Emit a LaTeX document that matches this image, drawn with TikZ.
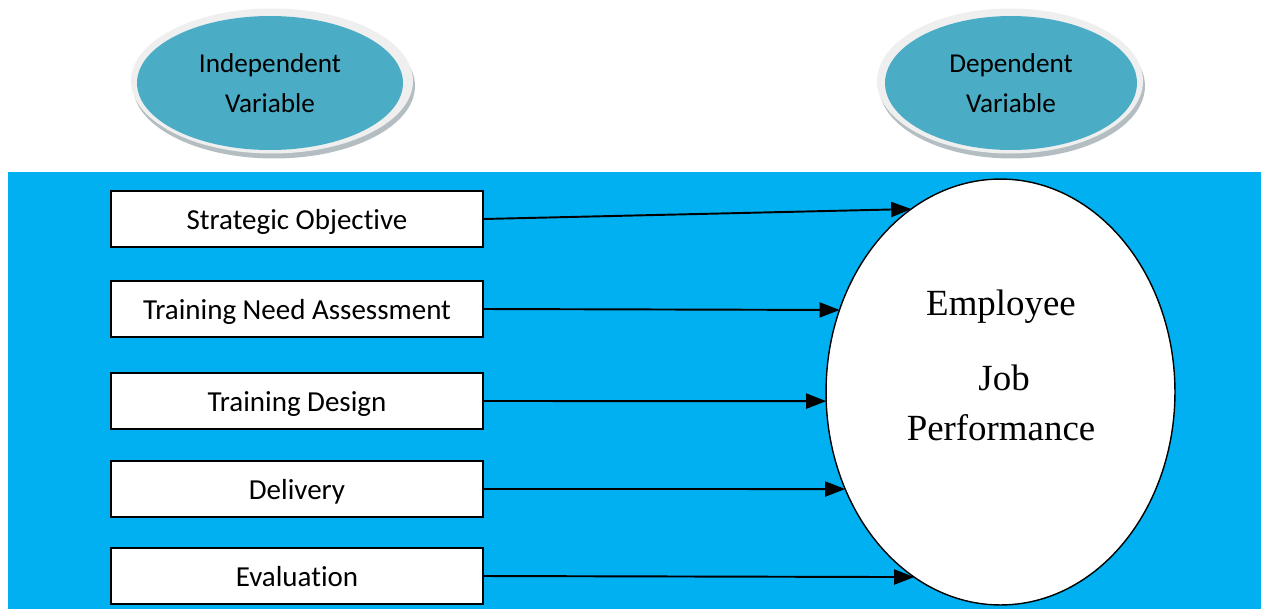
\documentclass[tikz,border=0pt]{standalone}
\usepackage{fontspec}
\setmainfont{Liberation Serif}
\newfontfamily\calibri[Ligatures=NoCommon]{Carlito}
\usetikzlibrary{shapes.geometric,arrows.meta}
\definecolor{skyblue}{HTML}{00B0F0}
\definecolor{tealfill}{HTML}{4BACC6}
\definecolor{ringgray}{HTML}{EFEFEF}
\definecolor{shadowgray}{HTML}{B4BEC2}

\begin{document}
\begin{tikzpicture}
            [x=0.02cm,y=-0.02cm,
                factor/.style={draw=black,line width=0.8pt,fill=white,minimum width=7.44cm,minimum height=1.12cm,inner sep=0pt,text height=11.5pt,text depth=0pt,font=\calibri\fontsize{16.5}{20}\selectfont},
                ring/.style={ellipse,fill=ringgray,inner sep=0pt},
                shade/.style={ellipse,fill=shadowgray,inner sep=0pt},
                badge/.style={ellipse,fill=tealfill,inner sep=0pt,minimum height=2.68cm,align=center,font=\calibri\fontsize{15.5}{23}\selectfont},
                link/.style={-{Triangle[length=0.4cm,width=0.3cm]},line width=1.1pt}]
            \useasboundingbox (0,0) rectangle (1261,609);
            \fill[white] (0,0) rectangle (1261,609);

            %the blue panel behind the factors
            \fill[skyblue] (8,172) rectangle (1261,609);

            %the two heading badges
            \node[shade,minimum width=5.64cm,minimum height=2.9cm] (indshade) at (274,86) {};
            \node[ring,minimum width=5.64cm,minimum height=2.9cm] (indring) at (272,81) {};
            \node[badge,minimum width=5.32cm] (indep) at (270,83) {Independent\\Variable};
            \node[shade,minimum width=5.32cm,minimum height=2.9cm] (depshade) at (1012,86) {};
            \node[ring,minimum width=5.32cm,minimum height=2.9cm] (depring) at (1010,81) {};
            \node[badge,minimum width=5.04cm] (dep) at (1011,83) {Dependent\\Variable};

            %the factors on the left
            \node[factor] (so) at (297,219) {Strategic Objective};
            \node[factor] (tna) at (297,309) {Training Need Assessment};
            \node[factor] (td) at (297,401) {Training Design};
            \node[factor] (del) at (297,489) {Delivery};
            \node[factor] (ev) at (297,576) {Evaluation};

            %the outcome
            \node[ellipse,draw=black,line width=0.8pt,fill=white,minimum width=6.98cm,minimum height=8.52cm,inner sep=0pt,outer sep=0pt] (perf) at (1000.5,392) {};
            \node[align=center,font=\fontsize{21}{28.5}\selectfont] (perftext) at (1001,365) {Employee\\[0.5cm]\,Job\\Performance};

            %the links
            \draw[link] (so.east) -- (perf.116);
            \draw[link] (tna.east) -- (perf.153.3);
            \draw[link] (td.east) -- (perf.183);
            \draw[link] (del.east) -- (perf.212);
            \draw[link] (ev.east) -- (perf.245);
        \end{tikzpicture}
\end{document}
